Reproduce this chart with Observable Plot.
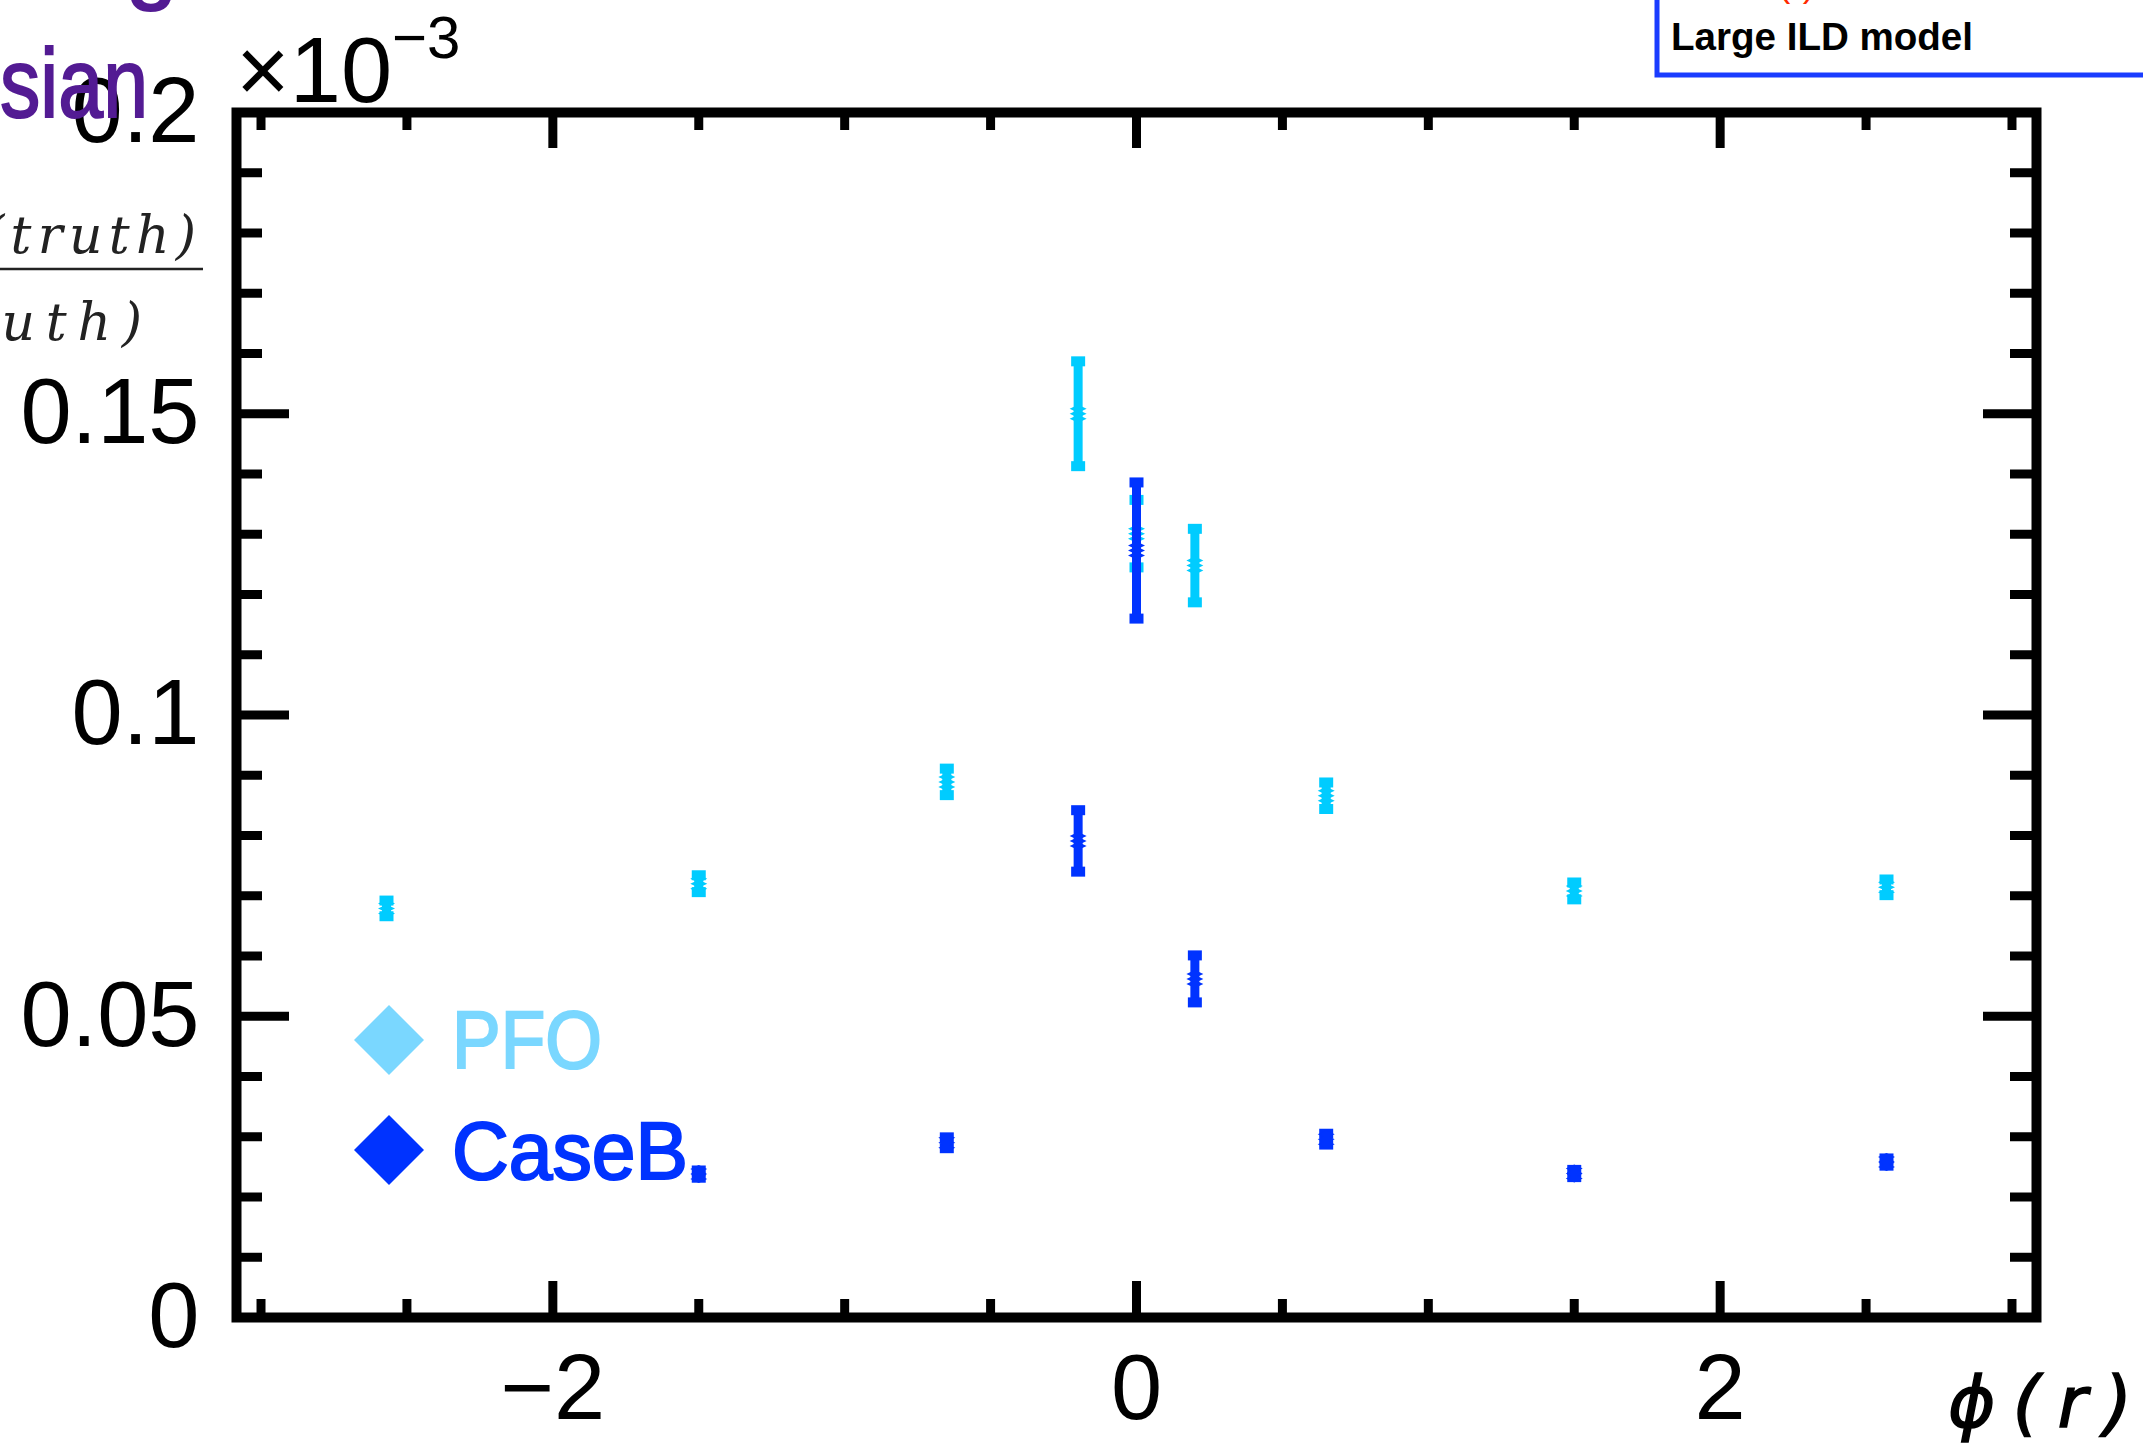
<!DOCTYPE html>
<html>
<head>
<meta charset="utf-8">
<script src="https://cdn.jsdelivr.net/npm/d3@7"></script>
<script src="https://cdn.jsdelivr.net/npm/@observablehq/plot@0.6"></script>
<style>
html, body { margin: 0; padding: 0; background: #fff; width: 2143px; height: 1448px; overflow: hidden; }
#wrap { position: relative; width: 2143px; height: 1448px; overflow: hidden; }
#chart { position: absolute; left: 0; top: 0; }
#overlay { position: absolute; left: 0; top: 0; pointer-events: none; }
</style>
</head>
<body>
<div id="wrap">
  <div id="chart"></div>
</div>
<script>
// ---- data (values in units of 10^-3) ----
const phi = [-2.57, -1.5, -0.65, -0.2, 0, 0.2, 0.65, 1.5, 2.57];
const pfoValue = [0.0679, 0.0720, 0.0889, 0.1500, 0.1301, 0.1248, 0.0866, 0.0708, 0.0714];
const pfoError = [0.0013, 0.0014, 0.0022, 0.0087, 0.0056, 0.0061, 0.0022, 0.0014, 0.0013];
const caseBValue = [null, 0.0238, 0.0290, 0.0791, 0.1273, 0.0562, 0.0296, 0.0239, 0.0258];
const caseBError = [null, 0.0006, 0.0009, 0.0051, 0.0113, 0.0039, 0.0009, 0.0006, 0.0006];
const seriesNames = ["PFO", "CaseB"];
const yMajorTicks = [0, 0.05, 0.1, 0.15, 0.2];
const yMinorTicks = [0.01, 0.02, 0.03, 0.04, 0.06, 0.07, 0.08, 0.09, 0.11, 0.12, 0.13, 0.14, 0.16, 0.17, 0.18, 0.19];
const xMajorTicks = [-2, 0, 2];
const xMinorTicks = [-3, -2.5, -1.5, -1, -0.5, 0.5, 1, 1.5, 2.5, 3];

// ---- layout / style ----
const W = 2143, H = 1448;
const mL = 236, mR = 107, mT = 112, mB = 131;
const innerW = W - mL - mR, innerH = H - mT - mB;
const colPFO = "#00CCFF", colCaseB = "#0033FF";
const colPFOLegend = "#7AD7FF";

const rows = (vals, errs, name) =>
  phi.map((x, i) => ({x, v: vals[i], e: errs[i], series: name})).filter(d => d.v != null);
const pfo = rows(pfoValue, pfoError, seriesNames[0]);
const caseB = rows(caseBValue, caseBError, seriesNames[1]);

const capSymbol = {draw(ctx) { ctx.rect(-7, -5, 14, 10); }};
const markerSymbol = {draw(ctx) {
  for (const o of [-5, 0, 5]) {
    ctx.moveTo(0, o - 4); ctx.lineTo(8.5, o); ctx.lineTo(0, o + 4); ctx.lineTo(-8.5, o); ctx.closePath();
  }
}};

function seriesMarks(data, color) {
  return [
    Plot.ruleX(data, {x: "x", y1: d => d.v - d.e, y2: d => d.v + d.e, stroke: color, strokeWidth: 9}),
    Plot.dot(data, {x: "x", y: d => d.v - d.e, symbol: capSymbol, fill: color}),
    Plot.dot(data, {x: "x", y: d => d.v + d.e, symbol: capSymbol, fill: color}),
    Plot.dot(data, {x: "x", y: "v", symbol: markerSymbol, fill: color})
  ];
}

const fmtX = d => d < 0 ? "\u2212" + Math.abs(d) : String(d);

const chart = Plot.plot({
  width: W, height: H,
  marginLeft: mL, marginRight: mR, marginTop: mT, marginBottom: mB,
  style: {fontFamily: "'Liberation Sans', Arial, sans-serif", fontSize: "92px", background: "#fff", color: "#000"},
  x: {domain: [-3.084, 3.084]},
  y: {domain: [0, 0.2]},
  marks: [
    ...seriesMarks(pfo, colPFO),
    ...seriesMarks(caseB, colCaseB),
    // ticks, ROOT style (inward, on all four sides)
    Plot.tickY(yMajorTicks, {y: d => d, insetRight: innerW - 53, strokeWidth: 9, stroke: "#000"}),
    Plot.tickY(yMajorTicks, {y: d => d, insetLeft: innerW - 53, strokeWidth: 9, stroke: "#000"}),
    Plot.tickY(yMinorTicks, {y: d => d, insetRight: innerW - 26, strokeWidth: 9, stroke: "#000"}),
    Plot.tickY(yMinorTicks, {y: d => d, insetLeft: innerW - 26, strokeWidth: 9, stroke: "#000"}),
    Plot.tickX(xMajorTicks, {x: d => d, insetTop: innerH - 36, strokeWidth: 9, stroke: "#000"}),
    Plot.tickX(xMajorTicks, {x: d => d, insetBottom: innerH - 36, strokeWidth: 9, stroke: "#000"}),
    Plot.tickX(xMinorTicks, {x: d => d, insetTop: innerH - 18, strokeWidth: 9, stroke: "#000"}),
    Plot.tickX(xMinorTicks, {x: d => d, insetBottom: innerH - 18, strokeWidth: 9, stroke: "#000"}),
    Plot.axisY(yMajorTicks, {anchor: "left", tickSize: 0, tickPadding: 37, label: null, tickFormat: d => String(d), fontSize: 92}),
    Plot.axisX(xMajorTicks, {anchor: "bottom", tickSize: 0, tickPadding: 36, label: null, tickFormat: fmtX, fontSize: 92}),
    Plot.frame({stroke: "#000", strokeWidth: 10})
  ]
});
document.getElementById("chart").appendChild(chart);

// ---- overlay texts (title fragments, axis labels, legend, box) ----
const ov = d3.select("#wrap").append("svg").attr("id", "overlay")
  .attr("width", W).attr("height", H)
  .style("font-family", "'Liberation Sans', Arial, sans-serif");

// purple title fragments at top-left
ov.append("text").attr("x", 126).attr("y", -8).attr("font-size", 92).attr("fill", "#531B93")
  .attr("stroke", "#531B93").attr("stroke-width", 2).text("g");
ov.append("text").attr("x", 0).attr("y", 117).attr("font-size", 98)
  .attr("stroke", "#531B93").attr("stroke-width", 2)
  .attr("textLength", 148).attr("lengthAdjust", "spacingAndGlyphs").attr("fill", "#531B93").text("sian");

// y label fraction fragments
const mathFont = "'DejaVu Serif', 'Liberation Serif', serif";
ov.append("text").attr("x", -16).attr("y", 253).attr("font-size", 52)
  .attr("textLength", 212).attr("lengthAdjust", "spacing")
  .attr("font-style", "italic").attr("font-family", mathFont).attr("fill", "#222").text("(truth)");
ov.append("line").attr("x1", 0).attr("x2", 203).attr("y1", 269).attr("y2", 269).attr("stroke", "#222").attr("stroke-width", 2.5);
ov.append("text").attr("x", -66).attr("y", 340).attr("font-size", 52)
  .attr("textLength", 208).attr("lengthAdjust", "spacing")
  .attr("font-style", "italic").attr("font-family", mathFont).attr("fill", "#222").text("truth)");

// x10^-3 multiplier
const mult = ov.append("text").attr("x", 236).attr("y", 102).attr("font-size", 92).attr("fill", "#000");
mult.append("tspan").text("\u00d710");
mult.append("tspan").attr("dy", -44).attr("font-size", 60).text("\u22123");

// x-axis label
ov.append("text").attr("x", 1948).attr("y", 1427).attr("font-size", 72).attr("font-style", "italic")
  .attr("stroke", "#000").attr("stroke-width", 1.5)
  .attr("textLength", 184).attr("lengthAdjust", "spacing")
  .attr("font-family", "'DejaVu Sans', sans-serif").attr("fill", "#000").text("\u03d5(r)");

// legend
const legend = [
  {name: seriesNames[0], color: colPFOLegend, cy: 1040, base: 1068, len: 150},
  {name: seriesNames[1], color: colCaseB, cy: 1150, base: 1179, len: 236}
];
for (const l of legend) {
  ov.append("polygon")
    .attr("points", `${389},${l.cy - 35} ${424},${l.cy} ${389},${l.cy + 35} ${354},${l.cy}`)
    .attr("fill", l.color);
  ov.append("text").attr("x", 452).attr("y", l.base).attr("font-size", 81).attr("fill", l.color)
    .attr("stroke", l.color).attr("stroke-width", 2.2)
    .attr("textLength", l.len).attr("lengthAdjust", "spacingAndGlyphs").text(l.name);
}

// top-right info box
ov.append("rect").attr("x", 1657).attr("y", -30).attr("width", 600).attr("height", 105)
  .attr("fill", "#fff").attr("stroke", "#1A3CFF").attr("stroke-width", 5);
ov.append("text").attr("x", 1778).attr("y", -4).attr("font-size", 37).attr("fill", "#FF2A00").text("(r)");
ov.append("text").attr("x", 1671).attr("y", 50).attr("font-size", 38).attr("font-weight", "bold")
  .attr("textLength", 302).attr("lengthAdjust", "spacingAndGlyphs")
  .attr("fill", "#000").text("Large ILD model");
</script>
</body>
</html>
